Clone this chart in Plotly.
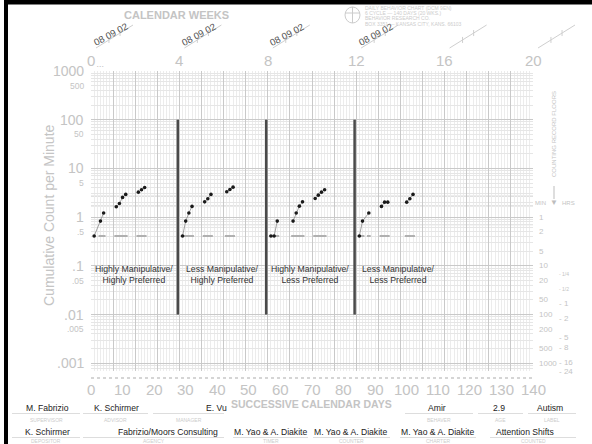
import math
import plotly.graph_objects as go

# ---------------- data ----------------
days_p1 = [1, 3, 4, 8, 9, 10, 11, 15, 16, 17]
vals_p1 = [0.41, 0.83, 1.22, 1.63, 1.91, 2.54, 2.93, 3.26, 3.64, 4.07]
days_p2 = [29, 30, 31, 32, 36, 37, 38, 43, 44, 45]
vals_p2 = [0.41, 0.83, 1.22, 1.66, 2.06, 2.38, 2.93, 3.31, 3.70, 4.13]
days_p3 = [57, 58, 59, 64, 65, 66, 67, 71, 72, 73, 74]
vals_p3 = [0.41, 0.41, 0.83, 0.83, 1.22, 1.68, 2.06, 2.42, 2.83, 3.26, 3.64]
days_p4 = [85, 86, 88, 92, 93, 94, 100, 101, 102]
vals_p4 = [0.41, 0.83, 1.22, 1.66, 2.03, 2.03, 2.03, 2.38, 2.93]

floor_value = 0.41
floor_days = [3, 4, 8, 9, 10, 11, 15, 16, 17,
              29, 30, 31, 32, 36, 37, 38, 43, 44, 45,
              57, 58, 59, 64, 65, 66, 67, 71, 72, 73, 74,
              85, 86, 88, 92, 93, 94, 100, 101, 102]

phase_change_days = [27.5, 55.5, 83.5]
phase_line_span = [0.01, 100]
phase_labels = ["Highly Manipulative/<br>Highly Preferred",
                "Less Manipulative/<br>Highly Preferred",
                "Highly Manipulative/<br>Less Preferred",
                "Less Manipulative/<br>Less Preferred"]
phase_label_days = [13.5, 41.5, 69.5, 97.5]
phase_label_value = 0.068

week_ticks = [0, 4, 8, 12, 16, 20]
dated_weeks = [0, 4, 8, 12]
date_text = "08 09 02"
day_ticks = list(range(0, 141, 10))
decade_vals = [1000, 100, 10, 1, 0.1, 0.01, 0.001]
decade_text = ["1000", "100", "10", "1", ".1", ".01", ".001"]
half_vals = [500, 50, 5, 0.5, 0.05, 0.005]
half_text = ["500", "50", "5", ".5", ".05", ".005"]
floor_minutes = [1, 2, 5, 10, 20, 50, 100, 200, 500, 1000]
floor_hours = [0.25, 0.5, 1, 2, 5, 8, 16, 24]
floor_hours_text = ["1/4", "1/2", "1", "2", "5", "8", "16", "24"]

# ---------------- geometry helpers ----------------
W, H = 592, 444
L, R, T, B = 91, 533, 71, 371
def xp(px): return (px - L) / (R - L)
def yp(py): return (B - py) / (B - T)

GRAY = "#c4c4c4"
FONT = "Liberation Sans, Arial, Helvetica, sans-serif"

def with_breaks(days, vals):
    xs, ys, prev = [], [], None
    for d, v in zip(days, vals):
        if prev is not None and d // 7 != prev // 7:
            xs.append(None); ys.append(None)
        xs.append(d); ys.append(v); prev = d
    return xs, ys

fig = go.Figure()

# record floors
fig.add_trace(go.Scatter(x=floor_days, y=[floor_value] * len(floor_days), mode="markers",
                         marker=dict(symbol="line-ew", size=2.7, line=dict(color="#b0b0b0", width=2)),
                         hoverinfo="skip", showlegend=False))

# phase change lines
px_, py_ = [], []
for d in phase_change_days:
    px_ += [d, d, None]; py_ += [phase_line_span[0], phase_line_span[1], None]
fig.add_trace(go.Scatter(x=px_, y=py_, mode="lines", line=dict(color="#4a4a4a", width=2.5),
                         hoverinfo="skip", showlegend=False))

for days, vals in [(days_p1, vals_p1), (days_p2, vals_p2), (days_p3, vals_p3), (days_p4, vals_p4)]:
    xs, ys = with_breaks(days, vals)
    fig.add_trace(go.Scatter(x=xs, y=ys, mode="lines", line=dict(color="#8a8a8a", width=0.8),
                             hoverinfo="skip", showlegend=False, connectgaps=False))
    fig.add_trace(go.Scatter(x=days, y=vals, mode="markers",
                             marker=dict(color="#1a1a1a", size=3.6), showlegend=False))

ann = []
def A(text, x, y, size, color=GRAY, xanchor="center", yanchor="middle", xref="paper", yref="paper",
      angle=0, bold=False):
    ann.append(dict(text=("<b>%s</b>" % text) if bold else text, x=x, y=y, xref=xref, yref=yref,
                    xanchor=xanchor, yanchor=yanchor, showarrow=False, textangle=angle,
                    font=dict(size=size, color=color, family=FONT)))

# y labels
for v, t in zip(decade_vals, decade_text):
    A(t, xp(86), math.log10(v), 14, xanchor="right", yref="y")
for v, t in zip(half_vals, half_text):
    A(t, xp(86), math.log10(v), 8.5, xanchor="right", yref="y")
A("Cumulative Count per Minute", xp(49), yp(215), 14, angle=-90)

# x labels
for d in day_ticks:
    A(str(d), d, yp(389), 15, xref="x")
for w in week_ticks:
    A(str(w), 7 * w, yp(60), 15, xref="x")
A("CALENDAR WEEKS", xp(176), yp(15), 11, bold=True)
A("SUCCESSIVE CALENDAR DAYS", xp(311), yp(404), 10.5, bold=True)
A("• • •", xp(100), yp(66), 4, color="#bbbbbb")

# phase labels
for d, t in zip(phase_label_days, phase_labels):
    A(t, d, math.log10(phase_label_value), 8.7, color="#333333", xref="x", yref="y")

# right-hand floor scales
A("COUNTING RECORD FLOORS", xp(554), yp(134), 6, angle=-90)
A("MIN", xp(548), yp(203), 6, xanchor="right")
A("HRS", xp(560), yp(203), 6, xanchor="left")
A("▼", xp(554), yp(202), 8, color="#bdbdbd")
for m in floor_minutes:
    A(str(m), xp(537), math.log10(1.0 / m), 8, xanchor="left", yref="y")
for h, t in zip(floor_hours, floor_hours_text):
    small = "/" in t
    A("- " + t, xp(557), math.log10(1.0 / (h * 60)), 5 if small else 8, xanchor="left", yref="y")

# dates at top
for w in dated_weeks:
    cx = L + 22.1 * w
    A(date_text, xp(cx + 19), yp(34), 9.5, color="#505050", angle=-28)

# logo text
logo_lines = ["DAILY BEHAVIOR CHART (DCM 9EN)", "6 CYCLE — 140 DAYS (20 WKS.)",
              "BEHAVIOR RESEARCH CO.", "BOX 3351 — KANSAS CITY, KANS. 66103"]
for i, t in enumerate(logo_lines):
    A(t, xp(363), yp(8 + 5.2 * i), 5, color="#cccccc", xanchor="left")

shapes = []
# frame (top and left) as filled rectangles
shapes.append(dict(type="rect", xref="paper", yref="paper", x0=xp(4), x1=xp(592), y0=yp(0), y1=yp(4.5),
                   fillcolor="black", line=dict(width=0)))
shapes.append(dict(type="rect", xref="paper", yref="paper", x0=xp(4), x1=xp(8), y0=yp(0), y1=yp(444),
                   fillcolor="black", line=dict(width=0)))

# bottom info
row1 = [("M. Fabrizio", 47, "SUPERVISOR", 12, 80), ("K. Schirmer", 116, "ADVISOR", 83, 148),
        ("E. Vu", 216, "MANAGER", 153, 224), ("Amir", 437, "BEHAVER", 405, 473),
        ("2.9", 499, "AGE", 478, 523), ("Autism", 550, "LABEL", 528, 576)]
row2 = [("K. Schirmer", 47, "DEPOSITOR", 12, 80), ("Fabrizio/Moors Consulting", 168, "AGENCY", 83, 224),
        ("M. Yao & A. Diakite", 270, "TIMER", 233, 308), ("M. Yao & A. Diakite", 350, "COUNTER", 313, 390),
        ("M. Yao & A. Diakite", 437, "CHARTER", 400, 476), ("Attention Shifts", 525, "COUNTED", 490, 576)]
for rows, ty, ly, cy in [(row1, 407.5, 413.5, 419.5), (row2, 432, 437.5, 441.5)]:
    for name, cx, cap, x0, x1 in rows:
        A(name, xp(cx), yp(ty), 8.6, color="#222222")
        A(cap, xp((x0 + x1) / 2), yp(cy), 5, color="#cccccc")
        shapes.append(dict(type="line", xref="paper", yref="paper", x0=xp(x0), x1=xp(x1),
                           y0=yp(ly), y1=yp(ly), line=dict(color="#dddddd", width=1)))

# 5-lines
for v in half_vals:
    shapes.append(dict(type="line", xref="paper", yref="y", x0=0, x1=1, y0=math.log10(v), y1=math.log10(v),
                       line=dict(color="#cfcfcf", width=1), layer="between"))
# dotted day line under grid
shapes.append(dict(type="line", xref="paper", yref="paper", x0=0, x1=1, y0=yp(378), y1=yp(378),
                   line=dict(color="#c8c8c8", width=1.5, dash="dot")))
# slanted date lines
for w in week_ticks:
    cx = L + 22.1 * w
    shapes.append(dict(type="line", xref="paper", yref="paper", x0=xp(cx + 5), y0=yp(48), x1=xp(cx + 42),
                       y1=yp(25), line=dict(color="#cfcfcf", width=1)))
    for f in (0.35, 0.65):
        bx = cx + 5 + 37 * f; by = 48 - 23 * f
        shapes.append(dict(type="line", xref="paper", yref="paper", x0=xp(bx), y0=yp(by + 3), x1=xp(bx),
                           y1=yp(by - 3), line=dict(color="#cfcfcf", width=1)))
# arrow stem
shapes.append(dict(type="line", xref="paper", yref="paper", x0=xp(554), x1=xp(554), y0=yp(186), y1=yp(199),
                   line=dict(color="#bdbdbd", width=1)))
# logo circle
shapes.append(dict(type="circle", xref="paper", yref="paper", x0=xp(345), x1=xp(360), y0=yp(7), y1=yp(23),
                   line=dict(color="#cccccc", width=1)))
shapes.append(dict(type="line", xref="paper", yref="paper", x0=xp(352.5), x1=xp(352.5), y0=yp(7), y1=yp(23),
                   line=dict(color="#cccccc", width=1)))
shapes.append(dict(type="line", xref="paper", yref="paper", x0=xp(345), x1=xp(360), y0=yp(13), y1=yp(13),
                   line=dict(color="#cccccc", width=1)))

fig.update_layout(
    width=W, height=H, margin=dict(l=L, r=W - R, t=T, b=H - B),
    paper_bgcolor="white", plot_bgcolor="white", showlegend=False,
    font=dict(family=FONT),
    xaxis=dict(range=[0, 140], tick0=0, dtick=7, showgrid=True, gridcolor="#c9c9c9", gridwidth=1,
               minor=dict(dtick=1, showgrid=True, gridcolor="#ececec", gridwidth=1),
               showticklabels=False, zeroline=False, showline=False, ticks=""),
    yaxis=dict(type="log", range=[math.log10(1 / 1440), 3], dtick=1, showgrid=True, gridcolor="#c9c9c9",
               minor=dict(dtick="D1", showgrid=True, gridcolor="#e6e6e6", gridwidth=1),
               showticklabels=False, zeroline=False, showline=False, ticks=""),
    annotations=ann, shapes=shapes,
)

frame_js = (
    "document.body.style.margin='0';document.body.style.overflow='hidden';"
    "window.scrollTo(0,0);"
    "var t=document.createElement('div');"
    "t.style.cssText='position:fixed;left:4px;top:0;width:588px;height:4px;background:#000;z-index:1000';"
    "document.body.appendChild(t);"
    "var l=document.createElement('div');"
    "l.style.cssText='position:fixed;left:4px;top:0;width:4px;height:444px;background:#000;z-index:1000';"
    "document.body.appendChild(l);"
)
fig.write_html("out.html", config={"displayModeBar": False}, post_script=frame_js)
